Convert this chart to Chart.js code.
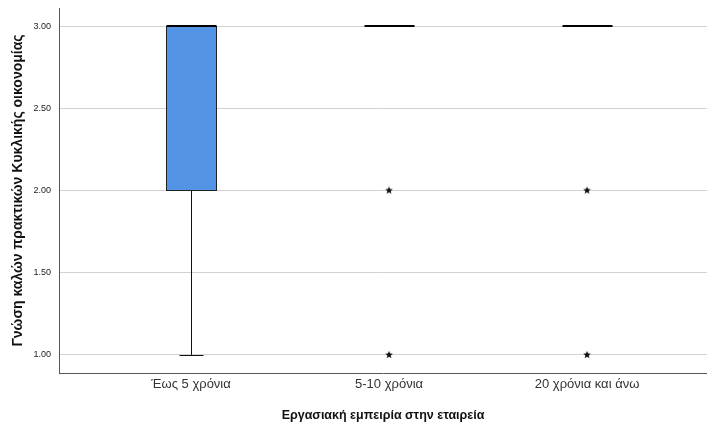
<!DOCTYPE html>
<html>
<head>
<meta charset="utf-8">
<script src="https://cdn.jsdelivr.net/npm/chart.js@4"></script>
<style>
  html, body { margin: 0; padding: 0; background: #fff; }
  #wrap { width: 707px; height: 423px; }
</style>
</head>
<body>
<div id="wrap"><canvas id="boxChart"></canvas></div>
<script>
// box plot figures per group
const categories = ['Έως 5 χρόνια', '5-10 χρόνια', '20 χρόνια και άνω'];
const whiskerLow = [1, 3, 3];
const q1 = [2, 3, 3];
const median = [3, 3, 3];
const q3 = [3, 3, 3];
const whiskerHigh = [3, 3, 3];
const extremes = [[], [2, 1], [2, 1]];
const yTicks = [1, 1.5, 2, 2.5, 3];

const boxColor = 'rgb(84, 148, 228)';

// small filled star used for extreme values
function makeStar(r) {
    const c = document.createElement('canvas');
    c.width = c.height = r * 2 + 2;
    const g = c.getContext('2d');
    g.fillStyle = '#111';
    g.beginPath();
    for (let i = 0; i < 10; i++) {
        const rad = i % 2 === 0 ? r : r * 0.45;
        const a = -Math.PI / 2 + i * Math.PI / 5;
        g.lineTo(r + 1 + rad * Math.cos(a), r + 1 + rad * Math.sin(a));
    }
    g.closePath();
    g.fill();
    return c;
}

const outlierPoints = [];
extremes.forEach((vals, i) => vals.forEach(v => outlierPoints.push({ x: i + 1, y: v })));

const boxPlugin = {
    id: 'boxes',
    beforeDatasetsDraw(chart) {
        const ctx = chart.ctx;
        const xs = chart.scales.x, ys = chart.scales.y;
        const half = 25, cap = 12;
        ctx.save();
        categories.forEach((c, i) => {
            const cx = Math.round(xs.getPixelForValue(i + 1)) + 0.5;
            const yLo = ys.getPixelForValue(whiskerLow[i]);
            const yHi = ys.getPixelForValue(whiskerHigh[i]);
            const y1 = ys.getPixelForValue(q1[i]);
            const y3 = ys.getPixelForValue(q3[i]);
            const ym = ys.getPixelForValue(median[i]);
            ctx.strokeStyle = '#111';
            ctx.lineWidth = 1;
            // whiskers
            if (whiskerLow[i] < q1[i]) {
                ctx.beginPath();
                ctx.moveTo(cx, y1); ctx.lineTo(cx, yLo);
                ctx.moveTo(cx - cap, Math.round(yLo) + 0.5); ctx.lineTo(cx + cap, Math.round(yLo) + 0.5);
                ctx.stroke();
            }
            if (whiskerHigh[i] > q3[i]) {
                ctx.beginPath();
                ctx.moveTo(cx, y3); ctx.lineTo(cx, yHi);
                ctx.moveTo(cx - cap, Math.round(yHi) + 0.5); ctx.lineTo(cx + cap, Math.round(yHi) + 0.5);
                ctx.stroke();
            }
            // box
            if (q3[i] > q1[i]) {
                ctx.fillStyle = boxColor;
                ctx.fillRect(cx - half, y3, half * 2, y1 - y3);
                ctx.strokeStyle = '#222';
                ctx.strokeRect(cx - half, Math.round(y3) + 0.5, half * 2, Math.round(y1 - y3));
            }
            // median
            ctx.strokeStyle = '#000';
            ctx.lineWidth = 2;
            ctx.beginPath();
            ctx.moveTo(cx - half, Math.round(ym)); ctx.lineTo(cx + half, Math.round(ym));
            ctx.stroke();
        });
        ctx.restore();
    }
};

new Chart(document.getElementById('boxChart'), {
    type: 'scatter',
    data: {
        datasets: [{
            label: 'Extremes',
            data: outlierPoints,
            pointStyle: makeStar(4),
            pointRadius: 4,
            pointHoverRadius: 4
        }]
    },
    options: {
        responsive: true,
        maintainAspectRatio: false,
        animation: false,
        layout: { autoPadding: false, padding: { top: 8, right: 0, bottom: 0, left: 0 } },
        plugins: {
            legend: { display: false },
            tooltip: { enabled: false }
        },
        scales: {
            x: {
                type: 'linear',
                min: 0.333,
                max: 3.606,
                afterBuildTicks: s => { s.ticks = [1, 2, 3].map(v => ({ value: v })); },
                afterFit: s => { s.height = 50; s.paddingLeft = 0; s.paddingRight = 0; },
                grid: { display: false, drawTicks: false },
                border: { display: true, color: '#555', width: 1 },
                ticks: {
                    padding: 4,
                    color: '#333',
                    font: { family: 'Liberation Sans', size: 13 },
                    callback: v => categories[v - 1]
                },
                title: {
                    display: true,
                    text: 'Εργασιακή εμπειρία στην εταιρεία',
                    color: '#111',
                    font: { family: 'Liberation Sans', size: 12.5, weight: 'bold' },
                    padding: { top: 9, bottom: 0 }
                }
            },
            y: {
                min: 0.89,
                max: 3.11,
                afterBuildTicks: s => { s.ticks = yTicks.map(v => ({ value: v })); },
                afterFit: s => { s.width = 59; s.paddingTop = 0; s.paddingBottom = 0; },
                grid: { color: '#d2d2d2', lineWidth: 1, drawTicks: false },
                border: { display: true, color: '#555', width: 1 },
                ticks: {
                    padding: 8,
                    color: '#222',
                    font: { family: 'Liberation Sans', size: 9 },
                    callback: v => v.toFixed(2)
                },
                title: {
                    display: true,
                    text: 'Γνώση καλών πρακτικών Κυκλικής οικονομίας',
                    color: '#111',
                    font: { family: 'Liberation Sans', size: 14, weight: 'bold' },
                    padding: { top: 10, bottom: 0 }
                }
            }
        }
    },
    plugins: [boxPlugin]
});
</script>
</body>
</html>
